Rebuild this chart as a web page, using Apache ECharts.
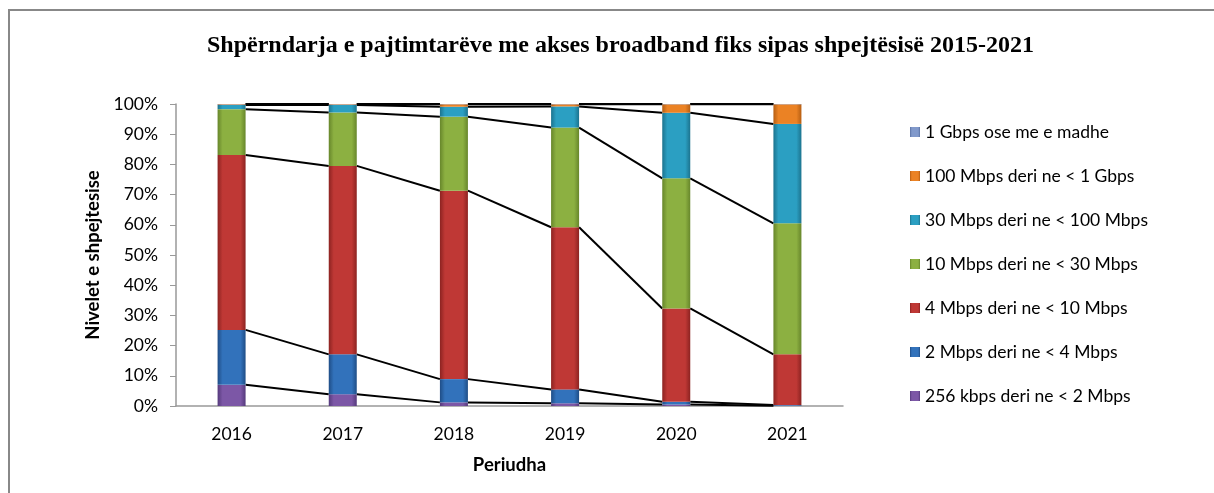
<!DOCTYPE html>
<html>
<head>
<meta charset="utf-8">
<script src="https://cdn.jsdelivr.net/npm/echarts@6/dist/echarts.min.js"></script>
<style>
  html, body { margin: 0; padding: 0; background: #fff; }
  #chart { width: 1214px; height: 493px; }
</style>
</head>
<body>
<div id="chart"></div>
<script>
// periudhat
var years = ['2016', '2017', '2018', '2019', '2020', '2021'];

// perqindjet sipas shpejtesise (nga poshte lart)
var kbps256 = [7.0, 3.9, 1.2, 0.9, 0.5, 0.1];
var mbps2 = [18.2, 13.2, 7.7, 4.6, 0.9, 0.2];
var mbps4 = [57.9, 62.4, 62.4, 53.7, 30.9, 16.8];
var mbps10 = [15.2, 17.7, 24.5, 33.0, 43.1, 43.4];
var mbps30 = [1.4, 2.5, 3.3, 7.0, 21.7, 32.9];
var mbps100 = [0.2, 0.2, 0.8, 0.7, 2.8, 6.5];
var gbps1 = [0.1, 0.1, 0.1, 0.1, 0.1, 0.1];

var names = [
  '256 kbps deri ne < 2 Mbps',
  '2 Mbps deri ne < 4 Mbps',
  '4 Mbps deri ne < 10 Mbps',
  '10 Mbps deri ne < 30 Mbps',
  '30 Mbps deri ne < 100 Mbps',
  '100 Mbps deri ne < 1 Gbps',
  '1 Gbps ose me e madhe'
];
var values = [kbps256, mbps2, mbps4, mbps10, mbps30, mbps100, gbps1];
var colors = [
  ['#7c57a6', '#553a7c'],
  ['#3272bb', '#1f4d86'],
  ['#bf3835', '#8c2321'],
  ['#8cb041', '#67862b'],
  ['#2b9fc2', '#1c738e'],
  ['#eb8224', '#b65e12'],
  ['#8199cb', '#5a72a3']
];

var BAR_W = 28;

function fill(c) {
  return new echarts.graphic.LinearGradient(0, 0, 1, 0, [
    { offset: 0, color: c[1] },
    { offset: 0.18, color: c[0] },
    { offset: 0.82, color: c[0] },
    { offset: 1, color: c[1] }
  ]);
}

var series = [];
var cum = years.map(function () { return 0; });
var lineRows = [];
for (var s = 0; s < values.length; s++) {
  series.push({
    name: names[s],
    type: 'bar',
    stack: 'total',
    barWidth: BAR_W,
    z: 3,
    itemStyle: { color: fill(colors[s]) },
    data: values[s]
  });
  cum = cum.map(function (v, i) { return v + values[s][i]; });
  for (var i = 0; i < years.length - 1; i++) {
    lineRows.push([i, cum[i], cum[i + 1]]);
  }
}

// vijat lidhese mes shtyllave
series.push({
  type: 'custom',
  z: 2,
  silent: true,
  encode: { x: 0, y: 1 },
  renderItem: function (params, api) {
    var i = api.value(0);
    var a = api.coord([i, api.value(1)]);
    var b = api.coord([i + 1, api.value(2)]);
    return {
      type: 'line',
      shape: { x1: a[0] + BAR_W / 2, y1: a[1], x2: b[0] - BAR_W / 2, y2: b[1] },
      style: { stroke: '#000', lineWidth: 2 }
    };
  },
  data: lineRows
});

var chart = echarts.init(document.getElementById('chart'));
chart.setOption({
  animation: false,
  textStyle: { fontFamily: 'Lato' },
  title: {
    text: 'Shpërndarja e pajtimtarëve me akses broadband fiks sipas shpejtësisë 2015-2021',
    left: 202,
    top: 29,
    textStyle: { fontFamily: 'Liberation Serif', fontWeight: 'bold', fontSize: 24, color: '#000' }
  },
  graphic: [{
    type: 'polyline',
    shape: { points: [[9, 493], [9, 10], [1214, 10]] },
    style: { stroke: '#888', lineWidth: 2, fill: null }
  }],
  legend: {
    orient: 'vertical',
    left: 905,
    top: 118,
    itemWidth: 10,
    itemHeight: 10,
    itemGap: 26,
    icon: 'rect',
    data: names.slice().reverse(),
    textStyle: { fontSize: 17.5, color: '#000', fontFamily: 'Lato' }
  },
  grid: { left: 176, right: 371, top: 104, bottom: 87 },
  xAxis: {
    type: 'category',
    data: years,
    name: 'Periudha',
    nameLocation: 'middle',
    nameGap: 50,
    nameTextStyle: { fontWeight: 'bold', fontSize: 18.5, color: '#000' },
    axisLine: { lineStyle: { color: '#999', width: 1.5 } },
    axisTick: { show: false },
    axisLabel: { fontSize: 17.5, color: '#000', margin: 19 }
  },
  yAxis: {
    type: 'value',
    min: 0,
    max: 100,
    interval: 10,
    name: 'Nivelet e shpejtesise',
    nameLocation: 'middle',
    nameGap: 67,
    nameTextStyle: { fontWeight: 'bold', fontSize: 18.5, color: '#000' },
    axisLine: { show: true, lineStyle: { color: '#999', width: 1.5 } },
    axisTick: { show: true, length: 6, lineStyle: { color: '#999' } },
    splitLine: { show: false },
    axisLabel: { fontSize: 17.5, color: '#000', margin: 18, formatter: '{value}%' }
  },
  series: series
});
</script>
</body>
</html>
